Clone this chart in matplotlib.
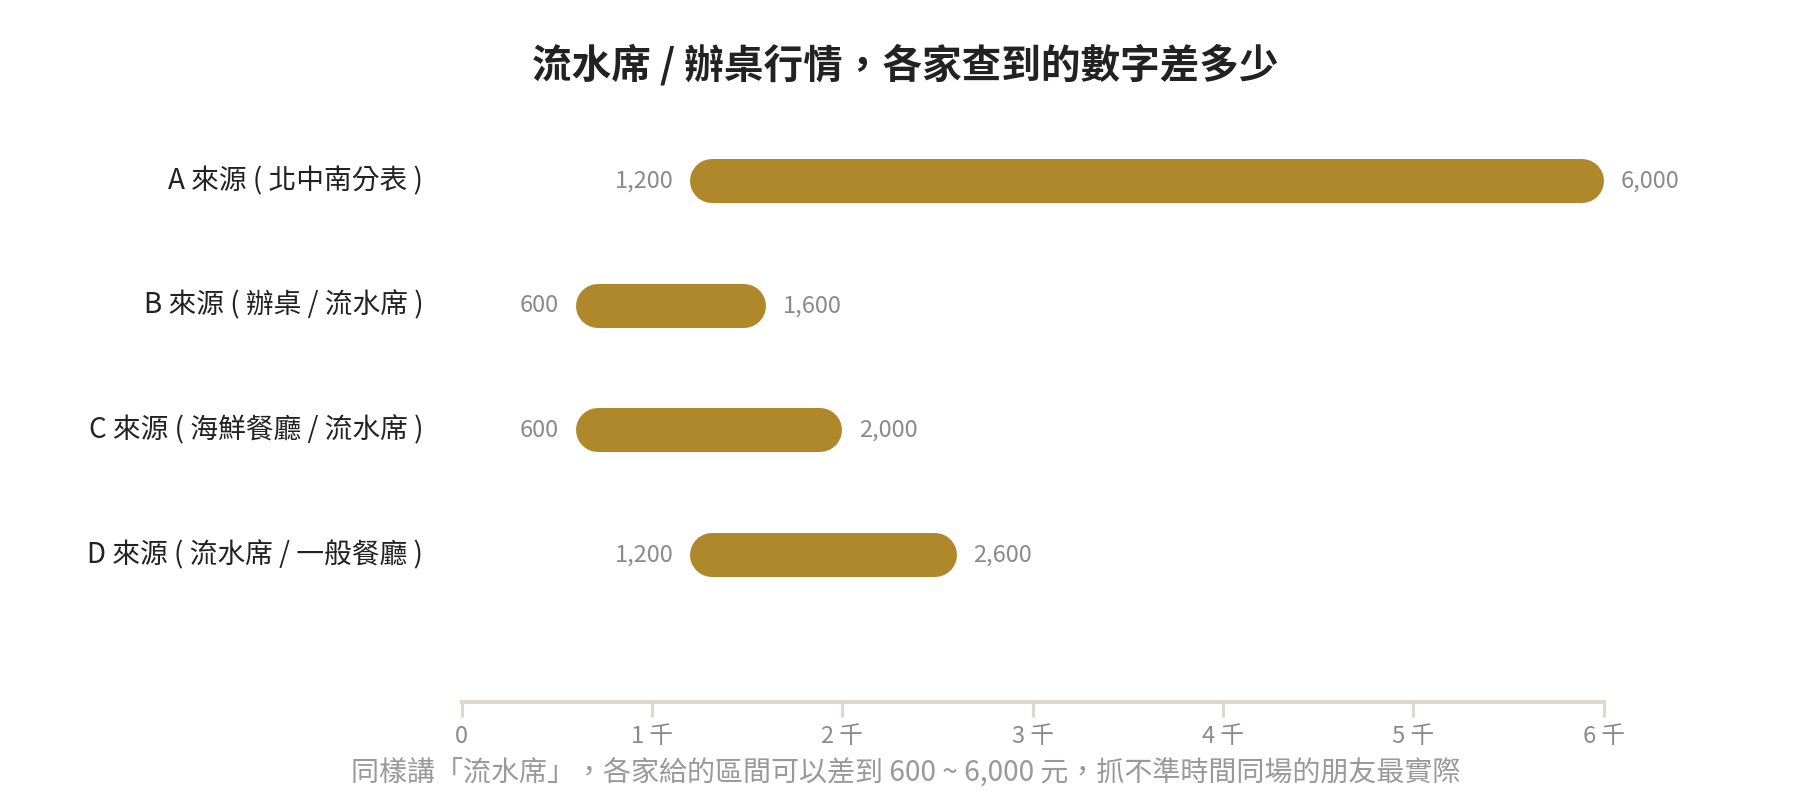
import matplotlib
matplotlib.use("Agg")
import matplotlib.pyplot as plt
from matplotlib.transforms import blended_transform_factory

plt.rcParams['font.family'] = ['Noto Sans CJK TC', 'DejaVu Sans']

# data
sources = ["A 來源 ( 北中南分表 )", "B 來源 ( 辦桌 / 流水席 )",
           "C 來源 ( 海鮮餐廳 / 流水席 )", "D 來源 ( 流水席 / 一般餐廳 )"]
low = [1200, 600, 600, 1200]
high = [6000, 1600, 2000, 2600]
ticks = [0, 1000, 2000, 3000, 4000, 5000, 6000]
tick_labels = ["0", "1 千", "2 千", "3 千", "4 千", "5 千", "6 千"]

bar_color = "#b0882c"
axis_color = "#ddd8cc"

fig = plt.figure(figsize=(18, 8), dpi=100)
ax = fig.add_axes([0.2565, 0.123, 0.6345, 0.742])
ax.set_xlim(0, 6000)
ax.set_ylim(-1.176, 3.586)

# pill bars: round capped lines, shortened by the cap radius
bbox = ax.get_position()
px_x = bbox.width * 1800 / 6000
bar_px = 44
r_x = (bar_px / 2) / px_x
lw = bar_px * 72 / 100

label_tr = blended_transform_factory(fig.transFigure, ax.transData)
n = len(sources)
for i, (name, lo, hi) in enumerate(zip(sources, low, high)):
    y = n - 1 - i
    ax.plot([lo + r_x, hi - r_x], [y, y], color=bar_color, lw=lw,
            solid_capstyle="round")
    ax.annotate(f"{lo:,}", (lo, y), xytext=(-12, 0), textcoords="offset points",
                ha="right", va="center", fontsize=17, color="#8a8a8a")
    ax.annotate(f"{hi:,}", (hi, y), xytext=(12, 0), textcoords="offset points",
                ha="left", va="center", fontsize=17, color="#8a8a8a")
    ax.text(0.2352, y, name, transform=label_tr,
            ha="right", va="center", fontsize=20, color="#222222")

for s in ["top", "right", "left"]:
    ax.spines[s].set_visible(False)
ax.spines["bottom"].set_color(axis_color)
ax.spines["bottom"].set_linewidth(2.8)
ax.set_yticks([])
ax.set_xticks(ticks)
ax.set_xticklabels(tick_labels)
ax.tick_params(axis="x", length=11, width=2.2, color=axis_color, pad=5.5,
               labelsize=17, labelcolor="#8a8a8a")

fig.text(0.503, 1 - 66 / 800, "流水席 / 辦桌行情，各家查到的數字差多少",
         ha="center", va="center", fontsize=28.5, fontweight="bold", color="#222222")
fig.text(0.503, 1 - 773 / 800,
         "同樣講「流水席」，各家給的區間可以差到 600 ~ 6,000 元，抓不準時間同場的朋友最實際",
         ha="center", va="center", fontsize=20.2, color="#999999")

fig.savefig("out.png", dpi=100, facecolor="white")
